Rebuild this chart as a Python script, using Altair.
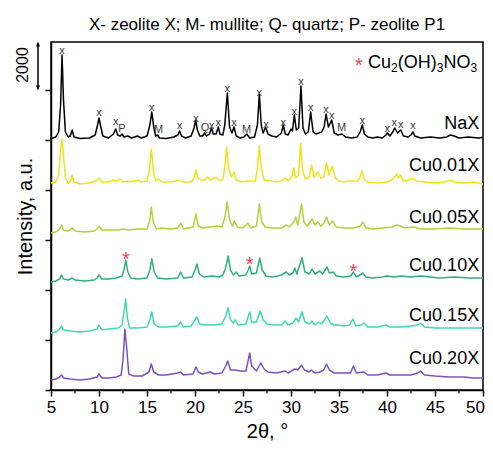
import altair as alt
import pandas as pd

FONT = "Liberation Sans"

sample_names = ["Cu0.20X", "Cu0.15X", "Cu0.10X", "Cu0.05X", "Cu0.01X", "NaX"]
sample_colors = ["#7a50c8", "#3ddab2", "#2faf7b", "#b0d23a", "#f1e31b", "#000000"]
sample_widths = [1.5, 1.5, 1.5, 1.5, 1.5, 1.9]

# (2theta, intensity incl. stacking offset)
nax = [(5.0,10060),(5.5,10120),(5.8,10320),(6.0,11400),(6.15,13400),(6.3,11600),(6.5,10320),(6.8,10120),(7.0,10160),(7.2,10400),(7.4,10120),(8.0,10060),(9.0,10080),(9.6,10200),(9.85,10600),(10.0,10880),(10.15,10600),(10.4,10160),(11.0,10080),(11.5,10240),(11.74,10440),(11.95,10200),(12.2,10160),(12.4,10240),(12.6,10120),(13.0,10160),(13.4,10080),(14.0,10160),(14.4,10080),(15.0,10160),(15.3,10600),(15.5,11120),(15.7,10520),(15.9,10160),(16.1,10200),(16.3,10080),(17.0,10060),(17.8,10120),(18.2,10200),(18.4,10360),(18.6,10160),(19.0,10080),(19.6,10160),(19.9,10480),(20.07,10800),(20.25,10400),(20.5,10160),(20.8,10160),(21.0,10280),(21.2,10160),(21.5,10240),(21.72,10480),(21.9,10240),(22.2,10240),(22.43,10520),(22.6,10240),(22.9,10200),(23.1,10600),(23.37,11880),(23.6,10520),(23.85,10280),(24.06,10520),(24.3,10160),(24.7,10080),(25.1,10120),(25.4,10240),(25.7,10080),(26.2,10120),(26.5,10600),(26.7,11840),(26.9,10600),(27.1,10280),(27.36,10520),(27.6,10240),(28.0,10160),(28.5,10120),(29.0,10280),(29.2,10600),(29.4,10240),(29.7,10200),(30.0,10440),(30.15,10360),(30.35,11000),(30.55,10400),(30.8,10480),(31.04,12160),(31.25,10480),(31.5,10240),(31.8,10320),(32.05,11120),(32.3,10320),(32.6,10240),(32.9,10280),(33.2,10320),(33.45,10520),(33.65,11040),(33.9,10520),(34.24,10800),(34.5,10280),(34.9,10200),(35.3,10240),(35.7,10120),(36.3,10080),(36.9,10120),(37.2,10320),(37.43,10600),(37.65,10240),(38.0,10120),(38.5,10080),(39.0,10120),(39.5,10080),(39.9,10200),(40.03,10280),(40.3,10160),(40.6,10320),(40.8,10480),(41.1,10280),(41.45,10400),(41.7,10160),(42.2,10120),(42.5,10200),(42.7,10320),(42.9,10160),(43.5,10080),(44.5,10120),(45.5,10080),(46.2,10120),(46.6,10200),(47.0,10160),(47.5,10080),(48.5,10120),(49.5,10080),(50.0,10100)]

cu001 = [(5.0,8280),(5.5,8320),(5.8,8600),(6.0,9600),(6.15,10040),(6.3,9400),(6.5,8480),(6.8,8280),(7.0,8320),(7.2,8600),(7.4,8320),(8.0,8240),(9.0,8280),(9.7,8360),(10.0,8480),(10.3,8320),(11.0,8320),(11.5,8400),(11.8,8360),(12.2,8440),(12.5,8320),(13.0,8360),(13.4,8320),(14.0,8400),(14.4,8320),(15.0,8360),(15.25,8800),(15.45,9640),(15.65,8800),(15.9,8360),(16.2,8440),(16.5,8320),(17.5,8320),(18.4,8400),(18.7,8320),(19.6,8320),(19.9,8480),(20.1,8800),(20.3,8480),(20.6,8400),(21.0,8400),(21.3,8520),(21.6,8400),(22.2,8520),(22.5,8400),(22.9,8400),(23.1,8880),(23.3,9720),(23.5,8880),(23.8,8520),(24.05,8720),(24.3,8400),(24.8,8320),(25.5,8360),(26.3,8360),(26.5,8880),(26.7,9760),(26.9,8880),(27.2,8400),(27.8,8360),(28.5,8320),(29.0,8360),(29.4,8480),(29.7,8360),(30.1,8560),(30.3,8880),(30.5,8480),(30.8,8600),(31.0,9880),(31.2,8800),(31.5,8440),(31.9,8520),(32.15,9000),(32.4,8520),(32.8,8720),(33.1,8480),(33.4,8520),(33.7,9080),(33.95,8600),(34.3,8960),(34.6,8480),(35.0,8360),(35.5,8320),(36.0,8360),(37.0,8360),(37.2,8520),(37.4,8760),(37.6,8440),(38.0,8320),(39.0,8280),(40.0,8320),(40.5,8400),(40.8,8520),(41.0,8640),(41.2,8480),(41.4,8600),(41.7,8360),(42.3,8400),(42.7,8480),(43.0,8360),(44.0,8320),(45.0,8280),(46.0,8320),(46.6,8400),(47.0,8320),(48.0,8280),(49.0,8320),(50.0,8240)]

cu005 = [(5.0,6280),(5.5,6320),(5.9,6440),(6.1,6600),(6.3,6400),(6.8,6360),(7.2,6480),(7.5,6360),(8.5,6320),(9.5,6360),(9.8,6440),(10.0,6560),(10.3,6400),(11.0,6400),(12.0,6400),(12.5,6440),(13.0,6400),(14.0,6440),(15.0,6440),(15.3,6800),(15.45,7320),(15.65,6720),(16.0,6440),(16.5,6480),(17.5,6440),(18.2,6480),(18.5,6680),(18.8,6440),(19.8,6520),(20.1,7040),(20.35,6560),(20.8,6480),(21.5,6520),(22.3,6560),(22.8,6520),(23.1,6880),(23.35,7520),(23.6,6800),(23.9,6560),(24.1,6760),(24.4,6520),(25.0,6480),(25.5,6680),(25.8,6480),(26.4,6560),(26.7,7440),(26.95,6720),(27.3,6520),(28.0,6480),(29.0,6480),(29.5,6600),(29.8,6520),(30.3,6720),(30.5,6920),(30.7,6600),(31.1,7440),(31.35,6720),(31.7,6560),(32.2,6840),(32.5,6600),(32.8,6720),(33.1,6560),(33.45,6680),(33.7,6920),(34.0,6600),(34.35,6760),(34.7,6520),(35.5,6480),(36.5,6480),(37.2,6560),(37.5,6720),(37.8,6480),(38.5,6440),(39.5,6480),(40.5,6520),(41.0,6600),(41.4,6560),(41.8,6480),(42.8,6520),(43.5,6440),(45.0,6440),(46.5,6480),(48.0,6440),(50.0,6440)]

cu010 = [(5.0,4320),(5.5,4360),(5.9,4440),(6.1,4600),(6.3,4440),(6.8,4400),(7.2,4480),(7.5,4400),(8.5,4360),(9.5,4400),(9.8,4480),(10.0,4600),(10.3,4440),(11.0,4440),(11.8,4480),(12.4,4560),(12.6,4800),(12.8,5200),(13.0,4720),(13.3,4480),(14.0,4440),(15.0,4480),(15.3,4800),(15.5,5240),(15.75,4720),(16.1,4480),(17.0,4440),(18.2,4480),(18.5,4720),(18.8,4480),(19.7,4520),(20.0,4800),(20.2,5040),(20.45,4640),(20.9,4520),(21.8,4560),(22.5,4520),(22.9,4600),(23.2,4880),(23.45,5360),(23.7,4800),(24.0,4600),(24.3,4720),(24.6,4560),(25.3,4600),(25.55,4800),(25.7,4960),(25.9,4640),(26.4,4680),(26.75,5280),(27.0,4800),(27.4,4560),(28.0,4520),(28.6,4560),(29.0,4600),(29.5,4720),(29.8,4600),(30.2,4680),(30.4,4880),(30.6,4640),(31.15,5280),(31.45,4720),(31.9,4640),(32.2,4840),(32.5,4640),(33.0,4760),(33.3,4640),(33.75,4920),(34.0,4680),(34.4,4720),(34.7,4560),(35.5,4520),(36.2,4560),(36.5,4720),(36.8,4520),(37.5,4680),(37.8,4520),(38.5,4480),(39.5,4520),(40.0,4560),(40.8,4520),(41.5,4560),(42.5,4520),(43.5,4560),(44.5,4520),(45.5,4480),(47.0,4520),(48.5,4480),(50.0,4480)]

cu015 = [(5.0,2280),(5.5,2320),(5.9,2440),(6.1,2560),(6.3,2400),(7.0,2360),(8.0,2320),(9.0,2360),(9.8,2440),(10.0,2600),(10.3,2400),(11.0,2440),(12.0,2480),(12.4,2600),(12.6,3120),(12.78,3640),(12.95,2880),(13.2,2480),(14.0,2480),(15.0,2520),(15.3,2800),(15.5,3120),(15.75,2640),(16.2,2520),(17.0,2520),(18.2,2560),(18.5,2720),(18.8,2520),(19.6,2560),(20.0,2800),(20.2,2920),(20.5,2640),(21.0,2600),(22.0,2600),(22.8,2640),(23.2,2960),(23.45,3280),(23.7,2800),(24.0,2680),(24.2,2800),(24.5,2600),(25.3,2640),(25.55,2960),(25.7,3120),(25.9,2720),(26.4,2720),(26.8,3160),(27.1,2800),(27.5,2640),(28.2,2600),(29.0,2600),(29.4,2760),(29.7,2600),(30.2,2680),(30.5,2880),(30.8,2720),(31.15,3120),(31.45,2720),(31.9,2640),(32.2,2760),(32.5,2600),(32.9,2720),(33.2,2640),(33.75,2960),(34.1,2680),(34.5,2600),(35.0,2600),(35.5,2560),(36.1,2600),(36.45,2840),(36.75,2560),(37.3,2600),(37.6,2680),(38.0,2520),(39.0,2520),(39.9,2600),(40.3,2520),(41.5,2520),(42.5,2560),(43.2,2600),(43.5,2680),(43.9,2520),(45.0,2480),(46.5,2480),(48.0,2480),(50.0,2480)]

cu020 = [(5.0,400),(5.5,440),(5.9,520),(6.1,600),(6.3,480),(7.0,440),(8.0,400),(9.0,440),(9.8,520),(10.0,640),(10.3,480),(11.0,480),(11.8,520),(12.3,600),(12.5,1200),(12.7,2440),(12.9,1600),(13.1,640),(13.6,560),(14.5,560),(15.2,720),(15.45,1040),(15.7,720),(16.2,600),(17.0,600),(18.2,680),(18.5,720),(18.8,600),(19.8,640),(20.1,920),(20.35,720),(20.8,640),(21.6,720),(22.0,640),(22.8,680),(23.2,960),(23.4,1160),(23.7,800),(24.2,800),(24.7,760),(25.3,760),(25.55,1200),(25.7,1480),(25.9,960),(26.4,760),(26.85,1080),(27.2,840),(27.6,720),(28.5,680),(29.4,760),(29.7,680),(30.4,840),(30.7,800),(31.1,1000),(31.4,800),(31.9,720),(32.1,800),(32.5,680),(33.0,720),(33.4,800),(33.7,1040),(34.0,800),(34.5,680),(35.5,680),(36.2,680),(36.5,960),(36.8,680),(37.6,720),(38.0,600),(39.0,600),(39.9,680),(40.3,600),(41.5,600),(42.5,600),(43.2,680),(43.5,760),(43.9,600),(45.0,560),(46.5,520),(48.0,520),(49.0,480),(50.0,480)]

series = {"NaX": nax, "Cu0.01X": cu001, "Cu0.05X": cu005,
          "Cu0.10X": cu010, "Cu0.15X": cu015, "Cu0.20X": cu020}

# phase marks above NaX peaks: (2theta, letter, intensity position)
phase_marks = [(6.15,"x",13560),(10.0,"x",11092),(11.74,"x",10720),(12.4,"P",10440),(15.5,"x",11280),(16.2,"M",10400),(18.4,"x",10572),(20.1,"x",10840),(21.04,"Q",10480),(21.74,"x",10560),(22.43,"x",10680),(23.37,"x",12040),(24.06,"x",10680),(25.38,"M",10400),(26.7,"x",11880),(27.4,"x",10600),(29.2,"x",10680),(30.35,"x",11132),(31.04,"x",12332),(32.05,"x",11280),(33.65,"x",11200),(34.24,"x",10960),(35.28,"M",10480),(37.43,"x",10760),(40.03,"x",10440),(40.76,"x",10680),(41.43,"x",10600),(42.7,"x",10560)]

# Cu2(OH)3NO3 reflections in Cu0.10X
star_theta = [12.8, 25.7, 36.5]
star_int = [4976, 4776, 4496]

label_int = [1024, 2744, 4744, 6664, 8744, 10424]

x_ticks = [5, 10, 15, 20, 25, 30, 35, 40, 45, 50]
x_minor = [7.5, 12.5, 17.5, 22.5, 27.5, 32.5, 37.5, 42.5, 47.5]
y_ticks = [0, 2000, 4000, 6000, 8000, 10000, 12000]

rows = []
for name in sample_names:
    for t, v in series[name]:
        rows.append({"theta": t, "intensity": v, "sample": name})
df = pd.DataFrame(rows)

W, H = 432, 348

xscale = alt.Scale(domain=[5, 50], nice=False, zero=False)
yscale = alt.Scale(domain=[0, 13920], nice=False)

lines = alt.Chart(df).mark_line(strokeJoin="round").encode(
    x=alt.X("theta:Q", scale=xscale,
            axis=alt.Axis(values=x_ticks, title="2θ, °", titleFont=FONT, titleFontSize=20,
                          titleFontWeight="normal", titleColor="black", titlePadding=6,
                          labelFont=FONT, labelFontSize=17, labelColor="black", labelPadding=3,
                          labelFlush=False,
                          labelOffset={"condition": {"test": "datum.value == 50", "value": -8}, "value": 0},
                          tickSize=6, tickWidth=1.5, tickColor="black",
                          domainColor="black", domainWidth=1.5, grid=False)),
    y=alt.Y("intensity:Q", scale=yscale,
            axis=alt.Axis(values=y_ticks, labels=False, title="Intensity, a.u.", titleFont=FONT,
                          titleFontSize=20, titleFontWeight="normal", titleColor="black",
                          titlePadding=9, tickSize=6, tickWidth=1.5, tickColor="black",
                          domainColor="black", domainWidth=1.5, grid=False)),
    color=alt.Color("sample:N", scale=alt.Scale(domain=sample_names, range=sample_colors), legend=None),
    strokeWidth=alt.StrokeWidth("sample:N", scale=alt.Scale(domain=sample_names, range=sample_widths), legend=None),
)

minor = alt.Chart(pd.DataFrame({"theta": x_minor})).mark_rule(strokeWidth=1.2).encode(
    x=alt.X("theta:Q", scale=xscale), y=alt.value(H), y2=alt.value(H + 3.5), color=alt.value("black"))

phase_df = pd.DataFrame(phase_marks, columns=["theta", "letter", "intensity"])
phases = alt.Chart(phase_df).mark_text(font=FONT, fontSize=11, baseline="middle").encode(
    x=alt.X("theta:Q", scale=xscale), y=alt.Y("intensity:Q", scale=yscale), text="letter:N",
    color=alt.value("#3a3a3a"))

stars = alt.Chart(pd.DataFrame({"theta": star_theta, "intensity": star_int, "t": ["*"] * 3})).mark_text(
    font=FONT, fontSize=20, baseline="alphabetic").encode(
    x=alt.X("theta:Q", scale=xscale), y=alt.Y("intensity:Q", scale=yscale), text="t:N",
    color=alt.value("#e8435a"))

labels = alt.Chart(pd.DataFrame({"theta": [49.6] * 6, "intensity": label_int, "name": sample_names})).mark_text(
    font=FONT, fontSize=18, align="right", baseline="alphabetic").encode(
    x=alt.X("theta:Q", scale=xscale), y=alt.Y("intensity:Q", scale=yscale), text="name:N",
    color=alt.value("black"))

layers = [lines, minor, phases, stars, labels]

# header line
layers.append(alt.Chart(pd.DataFrame({"t": ["X- zeolite X; M- mullite; Q- quartz; P- zeolite P1"]})).mark_text(
    font=FONT, fontSize=17, align="center", baseline="alphabetic").encode(
    x=alt.value(W / 2), y=alt.value(-12), text="t:N", color=alt.value("black")))

# Cu2(OH)3NO3 legend text with subscripts
formula = [("Cu", 317, 26, 18), ("2", 340, 30, 12), ("(OH)", 346.7, 26, 18),
           ("3", 385.7, 30, 12), ("NO", 392.4, 26, 18), ("3", 419.4, 30, 12)]
for txt, px, py, fs in formula:
    layers.append(alt.Chart(pd.DataFrame({"t": [txt]})).mark_text(
        font=FONT, fontSize=fs, align="left", baseline="alphabetic").encode(
        x=alt.value(px), y=alt.value(py), text="t:N", color=alt.value("black")))
layers.append(alt.Chart(pd.DataFrame({"t": ["*"]})).mark_text(
    font=FONT, fontSize=20, align="center", baseline="alphabetic").encode(
    x=alt.value(308), y=alt.value(29.6), text="t:N", color=alt.value("#e8435a")))

# scale bar: 2000 counts with double arrow
layers.append(alt.Chart(pd.DataFrame({"t": ["2000"]})).mark_text(
    font=FONT, fontSize=16, align="center", baseline="middle", angle=270).encode(
    x=alt.value(-28), y=alt.value(23), text="t:N", color=alt.value("black")))
layers.append(alt.Chart(pd.DataFrame({"a": [0]})).mark_rule(strokeWidth=1.5).encode(
    x=alt.value(-13), y=alt.value(2), y2=alt.value(46), color=alt.value("black")))
layers.append(alt.Chart(pd.DataFrame({"a": [0]})).mark_point(
    shape="M-0.4,0.5L0,-0.5L0.4,0.5Z", filled=True, size=100, opacity=1).encode(
    x=alt.value(-13), y=alt.value(2), color=alt.value("black")))
layers.append(alt.Chart(pd.DataFrame({"a": [0]})).mark_point(
    shape="M-0.4,-0.5L0,0.5L0.4,-0.5Z", filled=True, size=100, opacity=1).encode(
    x=alt.value(-13), y=alt.value(46), color=alt.value("black")))

chart = alt.layer(*layers).properties(
    width=W, height=H,
    padding={"left": 43, "top": 34, "right": 2, "bottom": 52},
    autosize=alt.AutoSizeParams(type="none"),
).configure_view(stroke="black", strokeWidth=1.5)

chart.save("out.html", embed_options={"renderer": "svg", "actions": False})
